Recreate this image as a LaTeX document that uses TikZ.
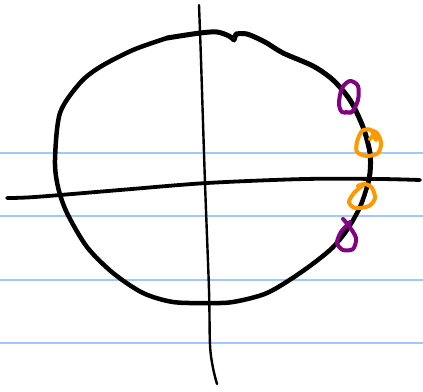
\documentclass[tikz,border=0pt]{standalone}
\begin{document}
\begin{tikzpicture}[x=1pt,y=-1pt,
  ink/.style={draw=black, line cap=round, line join=round}]
\definecolor{rulecol}{RGB}{160,200,250}
\definecolor{purpcol}{RGB}{128,0,128}
\definecolor{orancol}{RGB}{255,153,0}
\tikzset{
  purp/.style={draw=purpcol, line width=4pt, line cap=round, line join=round},
  oran/.style={draw=orancol, line width=4pt, line cap=round, line join=round}}
\useasboundingbox (0,0) rectangle (423,391);
\fill[white] (0,0) rectangle (423,391);
% ruled lines
\foreach \y in {153,216,280,343}
  \draw[draw=rulecol, line width=1.3pt] (0,\y) -- (423,\y);
% vertical axis
\draw[ink, line width=2.4pt] plot[smooth] coordinates {(199,5) (201,60) (205,183) (209,290) (210,345) (213,368) (217,384)};
% horizontal axis
\draw[ink, line width=3.8pt] plot[smooth] coordinates {(7,198) (35,197) (120,190) (207,183) (305,179) (380,179) (420,180)};
% circle (hand drawn)
\draw[ink, line width=5pt] plot[smooth] coordinates {(167,38) (200,33) (217,32) (229,36) (234,40)} -- plot[smooth] coordinates {(236,34) (247,34) (265,42) (283,53) (313,66) (333,80) (350,100) (363,127) (370,153) (370,173) (367,187)};
\draw[ink, line width=4.5pt] plot[smooth] coordinates {(367,187) (360,207) (347,230) (330,250) (300,273) (267,293) (233,302) (207,303) (173,302) (143,293) (113,273) (87,247) (67,213) (58,187) (55,160) (60,113) (80,83) (100,67) (133,50) (167,38)};
% purple loops
\draw[purp] plot[smooth] coordinates {(352,112) (342,112) (339,103) (342,88) (350,81) (358,86) (358,100) (352,112) (346,112)};
\draw[purp] plot[smooth] coordinates {(343,219) (349,226) (356,238) (353,249) (343,250) (337,243) (341,232) (350,222)};
% orange loops
\draw[oran] plot[smooth] coordinates {(370,139) (374,135) (376,140) (371,130) (362,131) (357,142) (357,152) (367,156) (378,153) (381,143) (377,133) (370,130)};
\draw[oran] plot[smooth] coordinates {(358,186) (365,184) (372,188) (375,198) (369,206) (355,208) (349,202) (354,193) (362,186)};
\end{tikzpicture}
\end{document}
